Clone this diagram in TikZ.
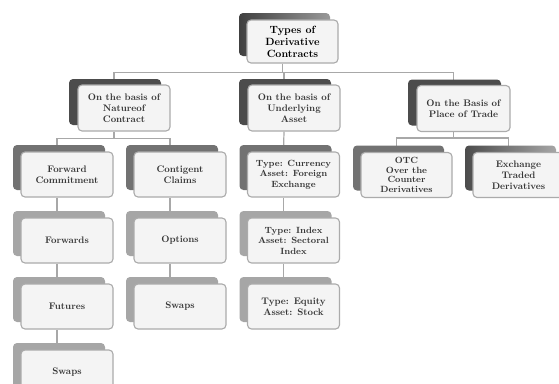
\documentclass[tikz,border=0pt]{standalone}
\usetikzlibrary{shadows,backgrounds}
\definecolor{boxfill}{HTML}{F4F4F4}
\definecolor{boxline}{HTML}{ABABAB}
\definecolor{txt}{HTML}{353535}
\definecolor{lnk}{HTML}{A8A8A8}
\definecolor{shA}{HTML}{4C4C4C}
\definecolor{shB}{HTML}{727272}
\definecolor{shC}{HTML}{A6A6A6}
\begin{document}
\begin{tikzpicture}[x=1pt,y=-1pt,
  box/.style={draw=boxline, fill=boxfill, rounded corners=4pt, line width=1.1pt,
    minimum width=92pt, minimum height=45pt, align=center, text=txt, inner sep=1pt,
    font=\bfseries\fontsize{9.5}{11}\selectfont},
  lvT/.style={box, minimum width=91pt, minimum height=43pt, text=black,
    font=\bfseries\fontsize{10.5}{12}\selectfont,
    general shadow={shadow xshift=-8pt, shadow yshift=7pt, left color=black!75, right color=black!40}},
  lvA/.style={box, minimum height=46pt, general shadow={shadow xshift=-9pt, shadow yshift=6pt, fill=shA}},
  lvB/.style={box, general shadow={shadow xshift=-8pt, shadow yshift=7pt, fill=shB}},
  lvE/.style={box, general shadow={shadow xshift=-8pt, shadow yshift=7pt, left color=black!70, right color=black!35}},
  lvC/.style={box, general shadow={shadow xshift=-8pt, shadow yshift=7pt, fill=shC}},
  link/.style={draw=lnk, line width=1.2pt}
]
\useasboundingbox (0,0) rectangle (559,383);
\clip (0,0) rectangle (559,383);
% top
\node[lvT] (top) at (292.5,41.5) {Types of\\Derivative\\Contracts};
% level 1
\node[lvA] (n1) at (124,108) {On the basis of\\Natureof\\Contract};
\node[lvA] (n2) at (294,108) {On the basis of\\Underlying\\Asset};
\node[lvA, minimum width=93pt] (n3) at (463.5,108.5) {On the Basis of\\Place of Trade};
% level 2
\node[lvB] (fc) at (67,174.5) {Forward\\Commitment};
\node[lvB] (cc) at (180,174.5) {Contigent\\Claims};
\node[lvB, font=\bfseries\fontsize{9}{10.5}\selectfont] (cur) at (293.5,174.5) {Type: Currency\\Asset: Foreign\\Exchange};
\node[lvB, minimum width=91pt, font=\bfseries\fontsize{9}{9.6}\selectfont] (otc) at (406.5,175) {OTC\\Over the\\Counter\\Derivatives};
\node[lvE, minimum width=91pt] (etd) at (518.5,175) {Exchange\\Traded\\Derivatives};
% level 3
\node[lvC] (fwd) at (67,240.5) {Forwards};
\node[lvC] (opt) at (180,240.5) {Options};
\node[lvC, font=\bfseries\fontsize{9}{10.5}\selectfont] (idx) at (293.5,240.5) {Type: Index\\Asset: Sectoral\\Index};
% level 4
\node[lvC] (fut) at (67,306.5) {Futures};
\node[lvC] (swb) at (180,306.5) {Swaps};
\node[lvC] (eq) at (293.5,306.5) {Type: Equity\\Asset: Stock};
% level 5
\node[lvC] (swa) at (67,372.5) {Swaps};
\begin{pgfonlayer}{background}
\fill[white] (0,0) rectangle (559,383);
\draw[link] ([xshift=-10pt]top.south) -- ++(0,9) -| ([xshift=-10pt]n1.north);
\draw[link] ([xshift=-10pt]top.south) -- ++(0,9) -| ([xshift=-10pt]n2.north);
\draw[link] ([xshift=-10pt]top.south) -- ++(0,9) -| ([xshift=-10pt]n3.north);
\draw[link] ([xshift=-10pt]n1.south) -- ++(0,7) -| ([xshift=-10pt]fc.north);
\draw[link] ([xshift=-10pt]n1.south) -- ++(0,7) -| ([xshift=-10pt]cc.north);
\draw[link] ([xshift=-10pt]n2.south) -- ([xshift=-10pt]cur.north);
\draw[link] ([xshift=-10pt]n3.south) -- ++(0,6) -| ([xshift=-10pt]otc.north);
\draw[link] ([xshift=-10pt]n3.south) -- ++(0,6) -| ([xshift=-10pt]etd.north);
\draw[link] ([xshift=-10pt]fc.south) -- ([xshift=-10pt]fwd.north);
\draw[link] ([xshift=-10pt]fwd.south) -- ([xshift=-10pt]fut.north);
\draw[link] ([xshift=-10pt]fut.south) -- ([xshift=-10pt]swa.north);
\draw[link] ([xshift=-10pt]cc.south) -- ([xshift=-10pt]opt.north);
\draw[link] ([xshift=-10pt]opt.south) -- ([xshift=-10pt]swb.north);
\draw[link] ([xshift=-10pt]cur.south) -- ([xshift=-10pt]idx.north);
\draw[link] ([xshift=-10pt]idx.south) -- ([xshift=-10pt]eq.north);
\end{pgfonlayer}
\end{tikzpicture}
\end{document}
